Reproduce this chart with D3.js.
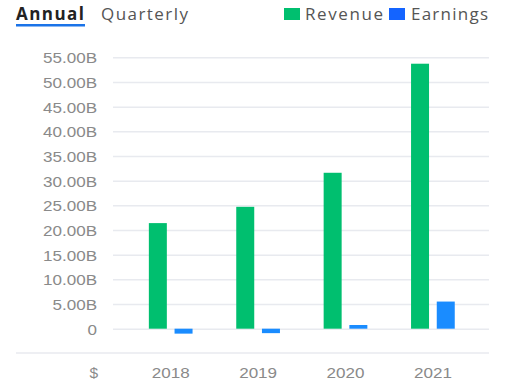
<!DOCTYPE html>
<html>
<head>
<meta charset="utf-8">
<script src="https://cdn.jsdelivr.net/npm/d3@7"></script>
<style>
  body { margin: 0; background: #fff; }
  svg { display: block; }
</style>
</head>
<body>
<script>
// chart data (billions of dollars)
const years = ["2018", "2019", "2020", "2021"];
const series = ["Revenue", "Earnings"];
const revenue = [21.4, 24.7, 31.6, 53.7];
const earnings = [-1.0, -0.9, 0.75, 5.5];
const yTicks = [0, 5, 10, 15, 20, 25, 30, 35, 40, 45, 50, 55];
const colors = { Revenue: "#00bf6f", Earnings: "#1a8cff" };
const legendColors = { Revenue: "#00bf6f", Earnings: "#1464ff" };

const width = 505, height = 390;

const svg = d3.select("body")
    .append("svg")
    .attr("width", width)
    .attr("height", height);

// tabs
svg.append("text")
    .attr("x", 16).attr("y", 20)
    .attr("font-family", "Open Sans")
    .attr("font-weight", "bold")
    .attr("font-size", 17)
    .attr("fill", "#222")
    .attr("textLength", 68)
    .text("Annual");
svg.append("rect")
    .attr("x", 16).attr("y", 24)
    .attr("width", 69).attr("height", 2.5)
    .attr("fill", "#1a73e8");
svg.append("text")
    .attr("x", 101).attr("y", 20)
    .attr("font-family", "Open Sans")
    .attr("font-size", 17)
    .attr("fill", "#555")
    .attr("textLength", 87)
    .text("Quarterly");

// legend
const legendItems = [
    { name: "Revenue", x: 284, tx: 305, tw: 78 },
    { name: "Earnings", x: 389, tx: 411, tw: 77 }
];
legendItems.forEach(d => {
    svg.append("rect")
        .attr("x", d.x).attr("y", 8)
        .attr("width", 16).attr("height", 12)
        .attr("fill", legendColors[d.name]);
    svg.append("text")
        .attr("x", d.tx).attr("y", 20)
        .attr("font-family", "Open Sans")
        .attr("font-size", 17)
        .attr("fill", "#555")
        .attr("textLength", d.tw)
        .text(d.name);
});

// scales
const y = d3.scaleLinear()
    .domain([0, 55])
    .range([328.7, 57.3]);

const x0 = d3.scaleBand()
    .domain(years)
    .range([127, 476.6]);

const x1 = d3.scaleBand()
    .domain(series)
    .range([0, x0.bandwidth()])
    .paddingInner(0.3)
    .paddingOuter(0.85);

// gridlines + y labels
const yAxis = svg.append("g")
    .attr("transform", "translate(113,0)")
    .call(d3.axisLeft(y)
        .tickValues(yTicks)
        .tickSize(-376)
        .tickPadding(16)
        .tickFormat(d => d === 0 ? "0" : d3.format(".2f")(d) + "B"));
yAxis.select(".domain").remove();
yAxis.selectAll(".tick line")
    .attr("stroke", "#e8eaef")
    .attr("stroke-width", 1.5);
yAxis.selectAll(".tick text")
    .attr("font-family", "Liberation Sans, Arial, sans-serif")
    .attr("font-size", 15.5)
    .attr("fill", "#8a8a8a")
    .attr("dy", "0.35em")
    .attr("transform", "scale(1.1,1)")
    .attr("x", -14.5);

// bottom rule
svg.append("line")
    .attr("x1", 16).attr("x2", 489)
    .attr("y1", 353).attr("y2", 353)
    .attr("stroke", "#e8eaef")
    .attr("stroke-width", 1.5);

// bars
const rows = years.map((yr, i) => ({ year: yr, Revenue: revenue[i], Earnings: earnings[i] }));
const groups = svg.selectAll(".grp")
    .data(rows)
    .enter()
    .append("g")
    .attr("transform", d => `translate(${x0(d.year)},0)`);

groups.selectAll("rect")
    .data(d => series.map(s => ({ key: s, value: d[s] })))
    .enter()
    .append("rect")
    .attr("x", d => x1(d.key))
    .attr("y", d => y(Math.max(0, d.value)))
    .attr("width", x1.bandwidth())
    .attr("height", d => Math.abs(y(d.value) - y(0)))
    .attr("fill", d => colors[d.key]);

// x labels
svg.append("text")
    .attr("x", 98).attr("y", 378)
    .attr("text-anchor", "end")
    .attr("font-family", "Liberation Sans, Arial, sans-serif")
    .attr("font-size", 15.5)
    .attr("fill", "#8a8a8a")
    .text("$");

svg.selectAll(".xlab")
    .data(years)
    .enter()
    .append("text")
    .attr("transform", d => `translate(${x0(d) + x0.bandwidth() / 2},378) scale(1.1,1)`)
    .attr("text-anchor", "middle")
    .attr("font-family", "Liberation Sans, Arial, sans-serif")
    .attr("font-size", 15.5)
    .attr("fill", "#8a8a8a")
    .text(d => d);
</script>
</body>
</html>
